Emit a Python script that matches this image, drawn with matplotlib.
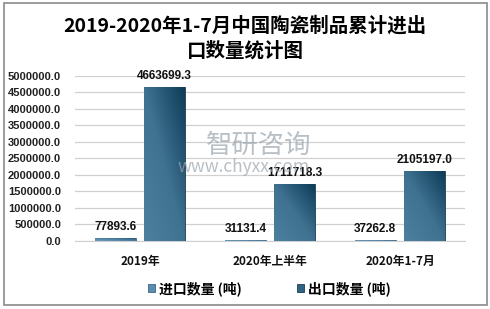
import matplotlib
matplotlib.use("Agg")
import matplotlib.pyplot as plt
import numpy as np
from matplotlib.patches import Rectangle
from matplotlib.colors import LinearSegmentedColormap

plt.rcParams['font.family'] = ['Noto Sans CJK SC', 'DejaVu Sans']

categories = ["2019年", "2020年上半年", "2020年1-7月"]
import_vals = [77893.6, 31131.4, 37262.8]
export_vals = [4663699.3, 1711718.3, 2105197.0]
series_names = ["进口数量 (吨)", "出口数量 (吨)"]
yticks = [0, 500000, 1000000, 1500000, 2000000, 2500000, 3000000, 3500000, 4000000, 4500000, 5000000]

fig = plt.figure(figsize=(4.9, 3.09), dpi=100)
ax = fig.add_axes([0.153, 0.220, 0.796, 0.535])

x = np.arange(len(categories))
w = 0.315
off = 0.19
imp_color = "#5a8db0"
exp_color = "#2f6383"
b1 = ax.bar(x - off, import_vals, w, color=imp_color, edgecolor="#3d6580", linewidth=0.6, zorder=3, label=series_names[0])
b2 = ax.bar(x + off, export_vals, w, color=exp_color, edgecolor="#1d3d52", linewidth=0.6, zorder=3, label=series_names[1])

# gradient fill on bars
cmap_exp = LinearSegmentedColormap.from_list("e", ["#4d7f9f", "#3f7191", "#0c3c57"])
cmap_imp = LinearSegmentedColormap.from_list("i", ["#6f9dbb", "#4f82a3", "#2a5a77"])
grad2 = np.add.outer(np.linspace(0, 0.6, 64), np.linspace(0, 0.6, 64)) / 1.2
for bars, cm in ((b1, cmap_imp), (b2, cmap_exp)):
    for r in bars:
        xx, yy = r.get_x(), r.get_y()
        im = ax.imshow(grad2[::-1], extent=[xx, xx + r.get_width(), yy, yy + r.get_height()],
                       aspect='auto', cmap=cm, zorder=3.5, origin='upper')
        im.set_clip_path(r)

ax.set_xlim(-0.5, 2.5)
ax.set_ylim(0, 5000000)
ax.set_yticks(yticks)
ax.set_yticklabels([f"{v:.1f}" for v in yticks], fontsize=8, fontweight='bold', color="#222222",
                   family='Liberation Sans')
ax.set_xticks(x)
ax.set_xticklabels(categories, fontsize=8.5, fontweight='bold', color="#111111")
ax.tick_params(axis='x', length=0, pad=10)
ax.tick_params(axis='y', length=0, pad=10)
ax.yaxis.grid(True, color="#d0d0d0", linewidth=0.9, zorder=0)
ax.set_axisbelow(True)
for s in ["top", "right", "left"]:
    ax.spines[s].set_visible(False)
ax.spines["bottom"].set_color("#d0d0d0")

for i in range(len(categories)):
    ax.text(x[i] - off, import_vals[i] + 150000, f"{import_vals[i]:.1f}", ha='center', va='bottom',
            fontsize=8.5, color="#111111", zorder=6, family='Liberation Sans', fontweight='bold')
    ax.text(x[i] + off, export_vals[i] + 150000, f"{export_vals[i]:.1f}", ha='center', va='bottom',
            fontsize=8.5, color="#111111", zorder=6, family='Liberation Sans', fontweight='bold')

# watermark
fig.text(0.527, 0.53, "智研咨询", fontsize=19, color="#9aa4ad", alpha=0.7, ha='center', va='center', zorder=5)
fig.text(0.498, 0.46, "www.chyxx.com", fontsize=12.5, color="#9aa4ad", alpha=0.7, ha='center', va='center', zorder=5)

fig.text(0.5, 0.918, "2019-2020年1-7月中国陶瓷制品累计进出", fontsize=14, ha='center', va='center',
         color="#000000", fontweight='bold')
fig.text(0.5, 0.835, "口数量统计图", fontsize=14, ha='center', va='center', color="#000000", fontweight='bold')

leg = fig.legend(handles=[b1, b2], labels=series_names, loc='center', bbox_to_anchor=(0.55, 0.065),
                 ncol=2, frameon=False, prop={'size': 10, 'weight': 'bold'},
                 handlelength=0.5, handleheight=0.5, columnspacing=4.0, handletextpad=0.3)

fig.patches.append(Rectangle((0.008, 0.012), 0.986, 0.978, transform=fig.transFigure,
                             fill=False, edgecolor="#8a8a8a", linewidth=1.2))

fig.savefig("out.png", dpi=100)
